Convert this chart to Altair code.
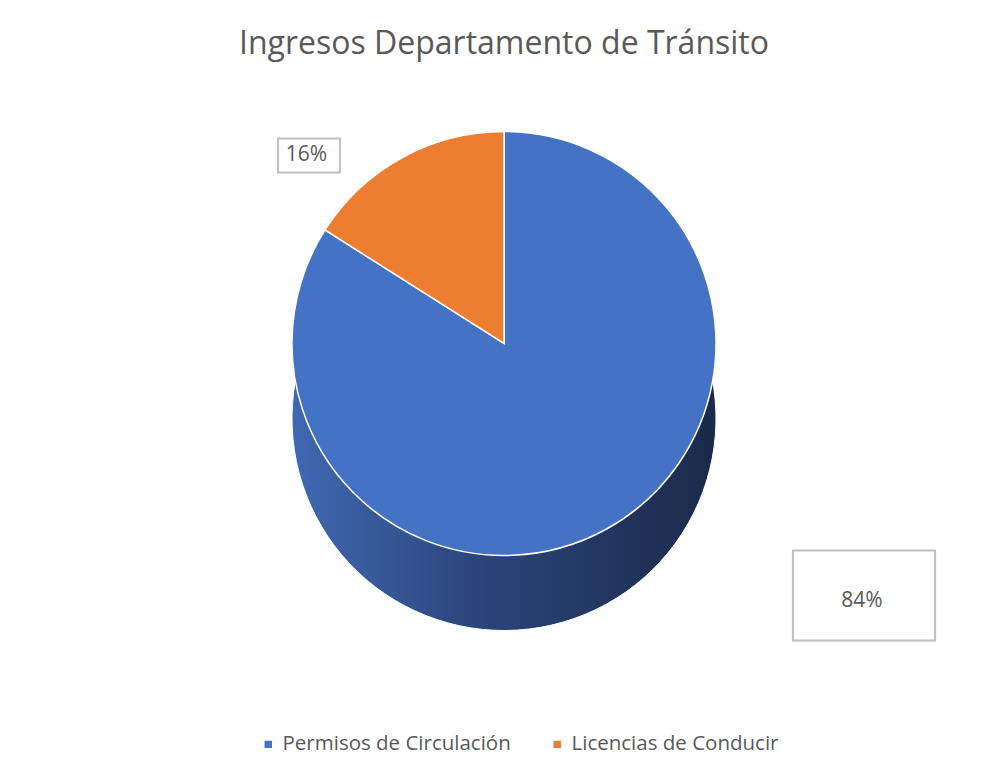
import altair as alt
import pandas as pd

categories = ["Permisos de Circulación", "Licencias de Conducir"]
values = [84, 16]
labels = ["84%", "16%"]
colors = ["#4472C4", "#ED7D31"]

df = pd.DataFrame({"cat": categories, "val": values, "label": labels, "ord": [0, 1]})

R = 212
TOP_OFF = -80
SIDE_OFF = -5

side_fill = {
    "gradient": "linear",
    "x1": 0, "x2": 1, "y1": 0, "y2": 0,
    "stops": [
        {"offset": 0, "color": "#4068B2"},
        {"offset": 0.45, "color": "#2B4479"},
        {"offset": 1, "color": "#1A2A4A"},
    ],
}

base = alt.Chart(df).encode(
    theta=alt.Theta("val:Q", stack=True, scale=alt.Scale(domain=[0, 100])),
    order=alt.Order("ord:Q"),
)

side = base.mark_arc(outerRadius=R, yOffset=SIDE_OFF, stroke="white", strokeWidth=1).encode(
    fill=alt.value(side_fill)
)

top = base.mark_arc(outerRadius=R, yOffset=TOP_OFF, stroke="white", strokeWidth=1.5).encode(
    color=alt.Color(
        "cat:N",
        scale=alt.Scale(domain=categories, range=colors),
        legend=alt.Legend(title=None, orient="none", direction="horizontal", legendX=250, legendY=661,
                          symbolType="square", symbolSize=80, labelLimit=400,
                          labelFontSize=20.5, labelColor="#595959", labelFont="Open Sans",
                          columnPadding=36),
    )
)

lab = alt.Chart(df).transform_window(
    cum="sum(val)", sort=[alt.SortField("ord")]
).transform_calculate(
    mid="datum.cum - datum.val / 2"
)

th = alt.Theta("mid:Q", scale=alt.Scale(domain=[0, 100]))

# label call-out boxes (decoration around the data labels)
box_big = lab.mark_point(xOffset=360, yOffset=172,
                         shape="M-1.58,-1H1.58V1H-1.58Z", size=8100, filled=True,
                         fill="white", stroke="#BFBFBF", strokeWidth=2, opacity=1).transform_filter(
    alt.datum.ord == 0
).encode(opacity=alt.value(1))

box_small = lab.mark_point(xOffset=-195, yOffset=-268,
                           shape="M-1.82,-1H1.82V1H-1.82Z", size=1156, filled=True,
                           fill="white", stroke="#BFBFBF", strokeWidth=2, opacity=1).transform_filter(
    alt.datum.ord == 1
).encode(opacity=alt.value(1))

text_big = lab.mark_text(radius=280, yOffset=TOP_OFF, dx=223, dy=12, fontSize=21,
                         font="Open Sans", color="#595959").encode(
    theta=th, text="label:N",
).transform_filter(alt.datum.ord == 0)

text_small = lab.mark_text(radius=275, yOffset=TOP_OFF, dx=-65, dy=52, fontSize=21,
                           font="Open Sans", color="#595959").encode(
    theta=th, text="label:N",
).transform_filter(alt.datum.ord == 1)

chart = (
    alt.layer(side, top, box_big, box_small, text_big, text_small)
    .properties(
        width=992,
        height=766,
        padding={"left": 0, "right": 0, "top": 20, "bottom": 0},
        autosize=alt.AutoSizeParams(type="fit", contains="padding"),
        title=alt.TitleParams("Ingresos Departamento de Tránsito", fontSize=32, font="Open Sans",
                              fontWeight="normal", color="#595959", offset=12),
    )
    .configure_view(stroke=None)
)

chart.save("out.html", embed_options={"renderer": "svg", "actions": False})
